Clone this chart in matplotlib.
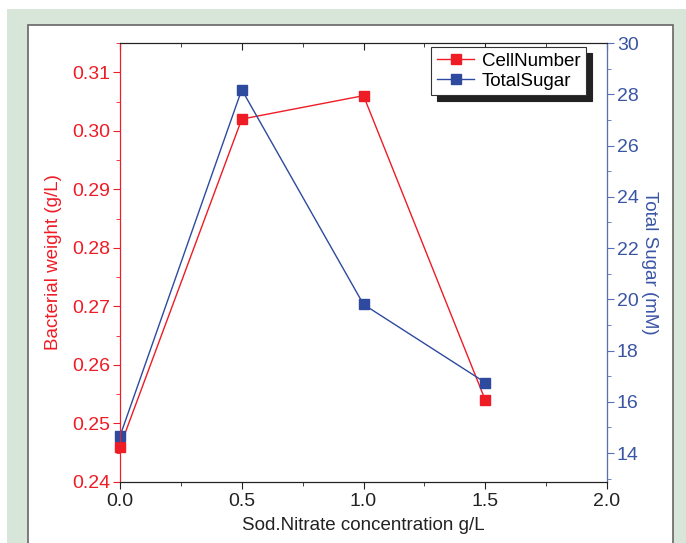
import matplotlib.pyplot as plt
from matplotlib.patches import Rectangle
from matplotlib.ticker import MultipleLocator

plt.rcParams['font.family'] = ['Liberation Sans', 'DejaVu Sans']

x = [0.0, 0.5, 1.0, 1.5]
cell_number = [0.246, 0.302, 0.306, 0.254]
total_sugar = [14.66, 28.18, 19.80, 16.75]

red = '#ee1c25'
blue = '#2e4a9e'
blue_txt = '#3a55a4'
blue_spine = '#5a70b5'

fig = plt.figure(figsize=(6.86, 5.43), dpi=100)
W, H = 686, 543
# green backdrop and white panel
fig.patches.append(Rectangle((7 / W, 0), 1, 1 - 9 / H, transform=fig.transFigure,
                             facecolor='#d8e5d9', edgecolor='none', zorder=-2))
fig.patches.append(Rectangle((28 / W, -0.1), (673 - 28) / W, 1.1 - 25 / H,
                             transform=fig.transFigure, facecolor='white',
                             edgecolor='#666666', linewidth=1.2, zorder=-1))

ax = fig.add_axes([120 / W, 1 - 482 / H, (607 - 120) / W, (482 - 43) / H])
ax.patch.set_alpha(0)
ax2 = ax.twinx()

l1, = ax.plot(x, cell_number, color=red, marker='s', markersize=7, linewidth=1,
              label='CellNumber', clip_on=False)
l2, = ax2.plot(x, total_sugar, color=blue, marker='s', markersize=7, linewidth=1,
               label='TotalSugar', clip_on=False)

ax.set_xlim(0, 2.0)
ax.set_ylim(0.24, 0.315)
ax2.set_ylim(12.87, 30)

ax.xaxis.set_major_locator(MultipleLocator(0.5))
ax.xaxis.set_minor_locator(MultipleLocator(0.25))
ax.yaxis.set_major_locator(MultipleLocator(0.01))
ax.yaxis.set_minor_locator(MultipleLocator(0.005))
ax2.yaxis.set_major_locator(MultipleLocator(2))
ax2.yaxis.set_minor_locator(MultipleLocator(1))

fs = 14
ax.tick_params(axis='x', which='both', direction='out', top=True, labelsize=fs,
               colors='#222222', pad=3)
ax.tick_params(axis='x', which='major', length=5)
ax.tick_params(axis='x', which='minor', length=3)
ax.tick_params(axis='y', which='both', direction='out', colors=red, labelsize=fs, pad=2)
ax.tick_params(axis='y', which='major', length=5)
ax.tick_params(axis='y', which='minor', length=3)
ax2.tick_params(axis='y', which='both', direction='out', colors=blue_spine, labelcolor=blue_txt,
                labelsize=fs, pad=2)
ax2.tick_params(axis='y', which='major', length=5)
ax2.tick_params(axis='y', which='minor', length=3)
# top ticks point inward
for t in ax.xaxis.get_ticklines(minor=False)[1::2] + ax.xaxis.get_ticklines(minor=True)[1::2]:
    t.set_marker(3)

ax.set_yticklabels([f'{v:.2f}' for v in ax.get_yticks()])
ax.set_ylim(0.24, 0.315)

ax.spines['left'].set_color(red)
ax2.spines['left'].set_color(red)
ax2.spines['right'].set_color(blue_spine)
ax2.spines['top'].set_color('#222222')
ax2.spines['bottom'].set_color('#222222')

ax.set_xlabel('Sod.Nitrate concentration g/L', fontsize=13.5, color='#222222', labelpad=5)
ax.set_ylabel('Bacterial weight (g/L)', fontsize=13.5, color=red, labelpad=7)
ax2.set_ylabel('Total Sugar (mM)', fontsize=13.5, color=blue_txt, rotation=270, labelpad=14)

leg = ax2.legend(handles=[l1, l2], loc='upper right', bbox_to_anchor=(466 / 487, 1 - 4 / 439),
                 fontsize=13.5, frameon=True, fancybox=False,
                 shadow={'color': '#222222', 'alpha': 1, 'ox': 4, 'oy': -4},
                 borderpad=0.3, handlelength=2.0, handletextpad=0.4, labelspacing=0.15,
                 borderaxespad=0)
leg.get_frame().set_edgecolor('#333333')
leg.get_frame().set_linewidth(0.8)

fig.savefig('out.png', dpi=100)
